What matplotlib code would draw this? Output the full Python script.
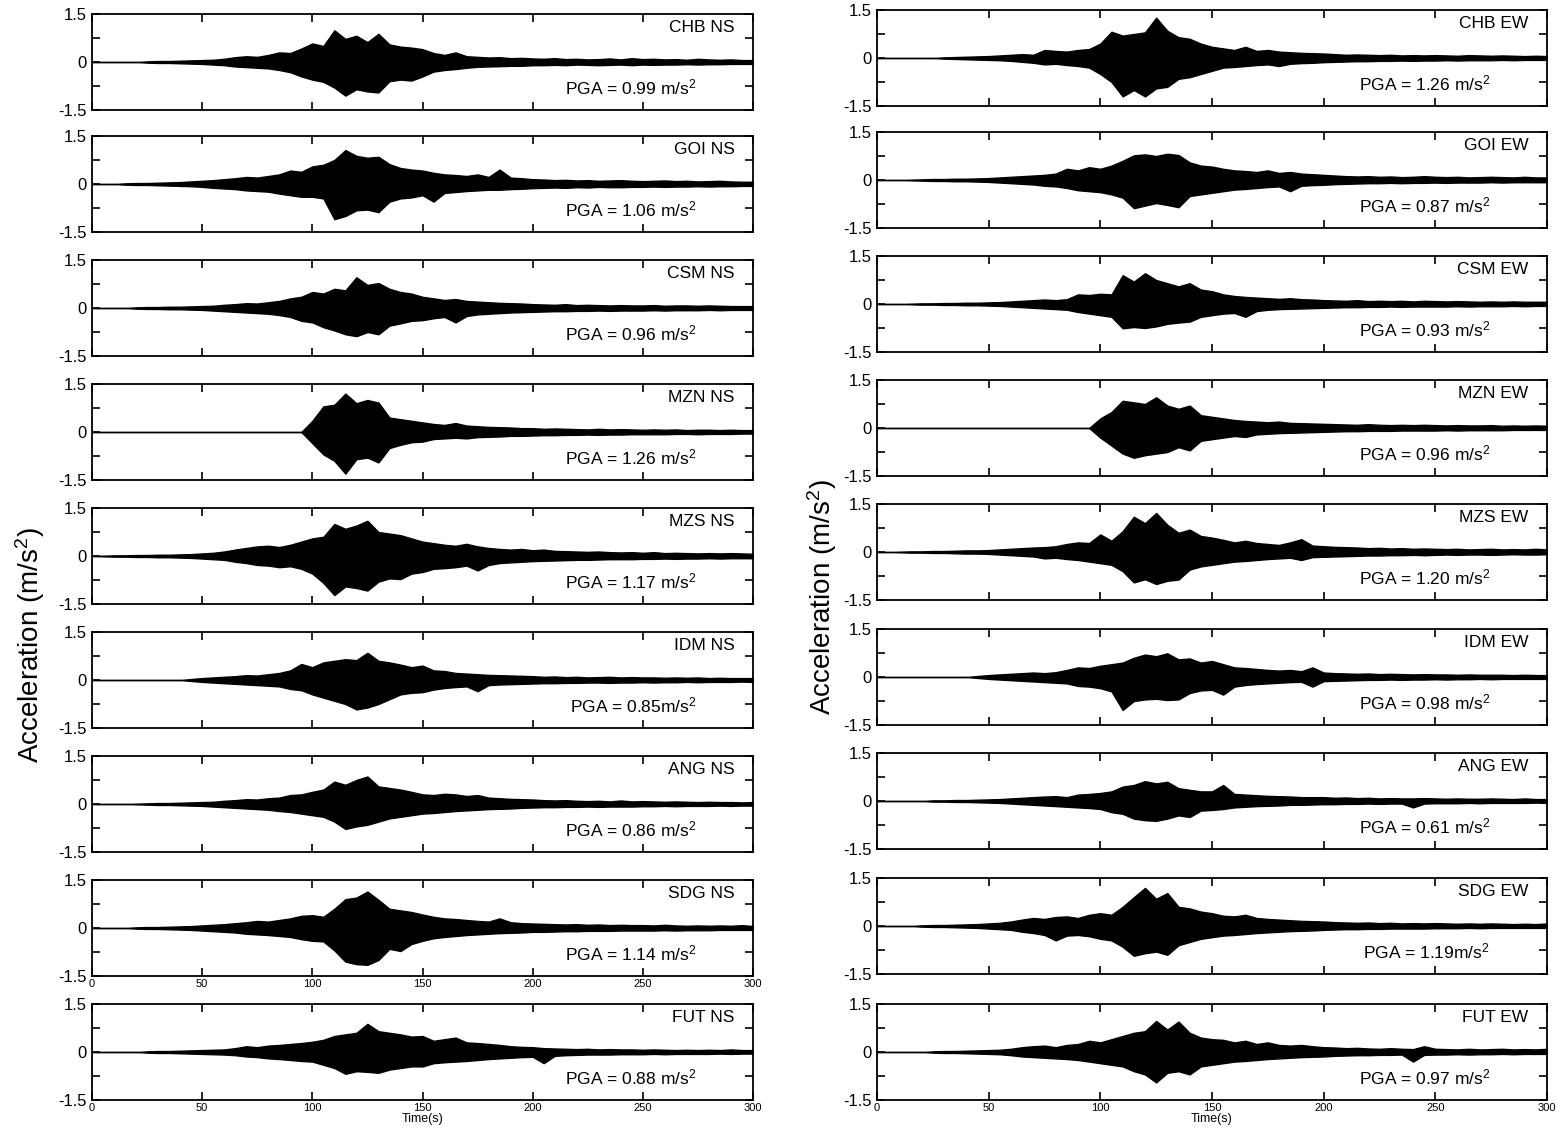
import numpy as np
import matplotlib
matplotlib.use('Agg')
import matplotlib.pyplot as plt

plt.rcParams['font.family'] = ['Liberation Sans', 'DejaVu Sans']
plt.rcParams['mathtext.default'] = 'regular'

# time axis of the envelope readings (s)
time_s = list(range(0, 301, 5))

# upper / lower envelope of each record, read every 5 s (m/s^2, lower as magnitude)
chb_ns_up = [0, 0, 0, 0, 0, 0.02, 0.03, 0.03, 0.04, 0.05,
             0.06, 0.07, 0.10, 0.15, 0.18, 0.16, 0.22, 0.30, 0.28, 0.42,
             0.58, 0.50, 0.99, 0.72, 0.82, 0.62, 0.88, 0.55, 0.48, 0.45,
             0.40, 0.28, 0.22, 0.30, 0.18, 0.16, 0.14, 0.15, 0.12, 0.13,
             0.11, 0.10, 0.12, 0.09, 0.10, 0.08, 0.09, 0.11, 0.08, 0.12,
             0.09, 0.10, 0.08, 0.09, 0.07, 0.10, 0.08, 0.07, 0.08, 0.06, 0.06]
chb_ns_lo = [0, 0, 0, 0, 0, 0.02, 0.03, 0.03, 0.04, 0.05,
             0.06, 0.08, 0.10, 0.14, 0.16, 0.18, 0.20, 0.25, 0.32, 0.45,
             0.55, 0.62, 0.80, 1.05, 0.85, 0.92, 0.95, 0.60, 0.55, 0.58,
             0.45, 0.30, 0.25, 0.22, 0.18, 0.15, 0.14, 0.13, 0.12, 0.12,
             0.10, 0.10, 0.09, 0.10, 0.08, 0.09, 0.10, 0.09, 0.08, 0.10,
             0.08, 0.09, 0.08, 0.08, 0.07, 0.08, 0.07, 0.07, 0.06, 0.06, 0.06]

goi_ns_up = [0, 0, 0, 0.02, 0.03, 0.03, 0.04, 0.05, 0.06, 0.08,
             0.10, 0.12, 0.15, 0.18, 0.22, 0.20, 0.25, 0.30, 0.42, 0.38,
             0.55, 0.60, 0.75, 1.06, 0.88, 0.82, 0.85, 0.62, 0.50, 0.45,
             0.42, 0.35, 0.30, 0.28, 0.25, 0.30, 0.22, 0.45, 0.20, 0.18,
             0.15, 0.14, 0.12, 0.13, 0.11, 0.12, 0.10, 0.11, 0.12, 0.10,
             0.09, 0.10, 0.11, 0.09, 0.10, 0.08, 0.09, 0.10, 0.08, 0.07, 0.07]
goi_ns_lo = [0, 0, 0, 0.02, 0.03, 0.03, 0.04, 0.05, 0.06, 0.07,
             0.09, 0.12, 0.14, 0.16, 0.20, 0.22, 0.24, 0.30, 0.35, 0.40,
             0.40, 0.45, 1.10, 1.00, 0.82, 0.80, 0.88, 0.55, 0.45, 0.42,
             0.35, 0.55, 0.28, 0.25, 0.22, 0.20, 0.18, 0.18, 0.16, 0.15,
             0.13, 0.12, 0.11, 0.12, 0.10, 0.11, 0.09, 0.10, 0.10, 0.09,
             0.09, 0.08, 0.09, 0.08, 0.08, 0.07, 0.08, 0.07, 0.07, 0.06, 0.06]

csm_ns_up = [0, 0, 0, 0, 0.02, 0.03, 0.03, 0.04, 0.04, 0.05,
             0.06, 0.07, 0.10, 0.12, 0.15, 0.14, 0.18, 0.22, 0.30, 0.35,
             0.50, 0.45, 0.60, 0.55, 0.96, 0.72, 0.78, 0.60, 0.50, 0.45,
             0.35, 0.30, 0.25, 0.28, 0.22, 0.20, 0.18, 0.16, 0.15, 0.14,
             0.12, 0.11, 0.10, 0.12, 0.09, 0.10, 0.09, 0.08, 0.09, 0.08,
             0.08, 0.09, 0.07, 0.08, 0.08, 0.07, 0.08, 0.07, 0.06, 0.06, 0.06]
csm_ns_lo = [0, 0, 0, 0, 0.02, 0.03, 0.03, 0.04, 0.04, 0.05,
             0.06, 0.08, 0.10, 0.12, 0.14, 0.16, 0.18, 0.22, 0.28, 0.40,
             0.45, 0.60, 0.70, 0.82, 0.88, 0.75, 0.82, 0.55, 0.48, 0.40,
             0.38, 0.32, 0.28, 0.45, 0.25, 0.20, 0.18, 0.16, 0.14, 0.13,
             0.12, 0.11, 0.10, 0.10, 0.09, 0.09, 0.08, 0.09, 0.08, 0.08,
             0.08, 0.07, 0.08, 0.07, 0.07, 0.07, 0.06, 0.07, 0.06, 0.06, 0.06]

mzn_ns_up = [0, 0, 0, 0, 0, 0, 0, 0, 0, 0,
             0, 0, 0, 0, 0, 0, 0, 0, 0, 0,
             0.35, 0.80, 0.85, 1.20, 0.90, 1.00, 0.92, 0.45, 0.40, 0.35,
             0.30, 0.25, 0.22, 0.28, 0.20, 0.18, 0.16, 0.15, 0.14, 0.12,
             0.12, 0.10, 0.11, 0.10, 0.09, 0.08, 0.10, 0.08, 0.09, 0.08,
             0.07, 0.08, 0.07, 0.08, 0.06, 0.07, 0.07, 0.06, 0.07, 0.06, 0.06]
mzn_ns_lo = [0, 0, 0, 0, 0, 0, 0, 0, 0, 0,
             0, 0, 0, 0, 0, 0, 0, 0, 0, 0,
             0.35, 0.70, 0.90, 1.30, 0.85, 0.80, 0.95, 0.50, 0.40, 0.32,
             0.30, 0.22, 0.20, 0.18, 0.20, 0.16, 0.15, 0.14, 0.12, 0.12,
             0.11, 0.10, 0.10, 0.09, 0.09, 0.08, 0.09, 0.08, 0.08, 0.07,
             0.07, 0.07, 0.07, 0.06, 0.06, 0.07, 0.06, 0.06, 0.06, 0.05, 0.05]

mzs_ns_up = [0, 0.01, 0.02, 0.02, 0.03, 0.03, 0.04, 0.04, 0.05, 0.06,
             0.08, 0.10, 0.14, 0.20, 0.25, 0.30, 0.32, 0.28, 0.35, 0.45,
             0.55, 0.60, 1.00, 0.85, 0.95, 1.10, 0.75, 0.70, 0.65, 0.55,
             0.45, 0.40, 0.35, 0.32, 0.38, 0.30, 0.25, 0.22, 0.20, 0.22,
             0.18, 0.20, 0.16, 0.15, 0.14, 0.13, 0.14, 0.12, 0.11, 0.12,
             0.10, 0.12, 0.09, 0.10, 0.09, 0.08, 0.09, 0.08, 0.09, 0.08, 0.07]
mzs_ns_lo = [0, 0.01, 0.02, 0.02, 0.03, 0.03, 0.04, 0.04, 0.05, 0.06,
             0.08, 0.10, 0.12, 0.18, 0.22, 0.28, 0.30, 0.35, 0.32, 0.40,
             0.55, 0.84, 1.22, 0.95, 1.00, 1.08, 0.80, 0.70, 0.72, 0.55,
             0.50, 0.40, 0.38, 0.35, 0.30, 0.45, 0.28, 0.22, 0.20, 0.18,
             0.16, 0.15, 0.14, 0.13, 0.12, 0.12, 0.11, 0.10, 0.10, 0.10,
             0.09, 0.09, 0.08, 0.09, 0.08, 0.08, 0.07, 0.08, 0.07, 0.07, 0.07]

idm_ns_up = [0, 0, 0, 0, 0, 0, 0, 0, 0, 0.03,
             0.06, 0.08, 0.10, 0.12, 0.15, 0.14, 0.18, 0.22, 0.30, 0.50,
             0.40, 0.55, 0.60, 0.65, 0.62, 0.85, 0.60, 0.55, 0.48, 0.40,
             0.45, 0.30, 0.28, 0.22, 0.20, 0.18, 0.16, 0.15, 0.14, 0.13,
             0.12, 0.10, 0.11, 0.09, 0.10, 0.08, 0.09, 0.10, 0.08, 0.09,
             0.08, 0.08, 0.07, 0.08, 0.07, 0.08, 0.06, 0.07, 0.06, 0.06, 0.06]
idm_ns_lo = [0, 0, 0, 0, 0, 0, 0, 0, 0, 0.03,
             0.06, 0.08, 0.10, 0.12, 0.14, 0.16, 0.18, 0.20, 0.28, 0.32,
             0.45, 0.55, 0.65, 0.75, 0.92, 0.86, 0.75, 0.60, 0.45, 0.40,
             0.38, 0.30, 0.25, 0.22, 0.20, 0.35, 0.16, 0.14, 0.13, 0.12,
             0.11, 0.10, 0.10, 0.09, 0.09, 0.08, 0.08, 0.09, 0.08, 0.08,
             0.07, 0.08, 0.07, 0.07, 0.06, 0.07, 0.06, 0.06, 0.06, 0.05, 0.06]

ang_ns_up = [0, 0, 0, 0, 0.01, 0.02, 0.03, 0.03, 0.04, 0.05,
             0.06, 0.07, 0.10, 0.12, 0.15, 0.14, 0.18, 0.20, 0.28, 0.30,
             0.38, 0.45, 0.70, 0.60, 0.75, 0.86, 0.55, 0.50, 0.45, 0.38,
             0.30, 0.28, 0.32, 0.30, 0.25, 0.28, 0.20, 0.18, 0.16, 0.15,
             0.14, 0.12, 0.11, 0.12, 0.10, 0.09, 0.10, 0.08, 0.11, 0.08,
             0.09, 0.08, 0.07, 0.08, 0.07, 0.06, 0.07, 0.06, 0.06, 0.05, 0.06]
ang_ns_lo = [0, 0, 0, 0, 0.01, 0.02, 0.03, 0.03, 0.04, 0.05,
             0.06, 0.08, 0.10, 0.12, 0.14, 0.16, 0.18, 0.22, 0.25, 0.30,
             0.35, 0.40, 0.55, 0.78, 0.70, 0.65, 0.55, 0.45, 0.40, 0.35,
             0.30, 0.28, 0.25, 0.22, 0.20, 0.18, 0.16, 0.15, 0.14, 0.12,
             0.11, 0.10, 0.10, 0.09, 0.09, 0.08, 0.09, 0.08, 0.08, 0.08,
             0.07, 0.07, 0.06, 0.07, 0.06, 0.06, 0.06, 0.05, 0.06, 0.05, 0.05]

sdg_ns_up = [0, 0, 0, 0, 0.02, 0.03, 0.03, 0.04, 0.05, 0.06,
             0.08, 0.10, 0.12, 0.15, 0.18, 0.22, 0.20, 0.25, 0.30, 0.38,
             0.40, 0.35, 0.60, 0.90, 0.95, 1.14, 0.88, 0.60, 0.55, 0.50,
             0.42, 0.35, 0.30, 0.28, 0.25, 0.22, 0.20, 0.30, 0.18, 0.15,
             0.14, 0.13, 0.12, 0.11, 0.12, 0.10, 0.11, 0.09, 0.10, 0.09,
             0.09, 0.08, 0.10, 0.08, 0.07, 0.08, 0.07, 0.08, 0.07, 0.09, 0.06]
sdg_ns_lo = [0, 0, 0, 0, 0.02, 0.03, 0.03, 0.04, 0.05, 0.06,
             0.08, 0.10, 0.12, 0.14, 0.18, 0.20, 0.22, 0.25, 0.28, 0.35,
             0.40, 0.42, 0.70, 1.05, 1.13, 1.15, 1.00, 0.65, 0.72, 0.50,
             0.40, 0.32, 0.28, 0.25, 0.22, 0.20, 0.18, 0.16, 0.15, 0.14,
             0.12, 0.12, 0.11, 0.10, 0.10, 0.09, 0.09, 0.09, 0.08, 0.08,
             0.08, 0.08, 0.07, 0.08, 0.07, 0.07, 0.07, 0.06, 0.06, 0.06, 0.06]

fut_ns_up = [0, 0, 0, 0, 0, 0.02, 0.03, 0.03, 0.04, 0.05,
             0.06, 0.07, 0.08, 0.12, 0.18, 0.15, 0.20, 0.22, 0.25, 0.28,
             0.32, 0.38, 0.50, 0.55, 0.60, 0.88, 0.65, 0.60, 0.55, 0.48,
             0.50, 0.35, 0.40, 0.45, 0.30, 0.28, 0.25, 0.22, 0.18, 0.16,
             0.15, 0.12, 0.11, 0.10, 0.09, 0.10, 0.08, 0.09, 0.08, 0.08,
             0.07, 0.08, 0.07, 0.06, 0.07, 0.06, 0.07, 0.06, 0.08, 0.06, 0.06]
fut_ns_lo = [0, 0, 0, 0, 0, 0.02, 0.03, 0.03, 0.04, 0.05,
             0.06, 0.07, 0.08, 0.10, 0.14, 0.16, 0.20, 0.22, 0.25, 0.28,
             0.30, 0.40, 0.50, 0.68, 0.60, 0.62, 0.65, 0.55, 0.50, 0.45,
             0.45, 0.35, 0.32, 0.30, 0.28, 0.25, 0.22, 0.20, 0.18, 0.16,
             0.15, 0.35, 0.12, 0.10, 0.09, 0.08, 0.08, 0.08, 0.07, 0.07,
             0.07, 0.06, 0.07, 0.06, 0.06, 0.06, 0.06, 0.05, 0.06, 0.05, 0.05]

chb_ew_up = [0, 0, 0, 0, 0, 0, 0.02, 0.03, 0.04, 0.05,
             0.06, 0.08, 0.10, 0.12, 0.10, 0.25, 0.22, 0.20, 0.25, 0.28,
             0.45, 0.82, 0.70, 0.75, 0.80, 1.26, 0.85, 0.65, 0.60, 0.45,
             0.35, 0.30, 0.25, 0.35, 0.22, 0.25, 0.20, 0.18, 0.16, 0.15,
             0.14, 0.12, 0.10, 0.11, 0.10, 0.09, 0.10, 0.08, 0.09, 0.08,
             0.09, 0.08, 0.07, 0.09, 0.08, 0.07, 0.08, 0.07, 0.06, 0.07, 0.06]
chb_ew_lo = [0, 0, 0, 0, 0, 0, 0.02, 0.03, 0.04, 0.05,
             0.06, 0.07, 0.09, 0.12, 0.15, 0.20, 0.18, 0.22, 0.25, 0.30,
             0.50, 0.75, 1.20, 1.00, 1.20, 0.95, 0.90, 0.65, 0.60, 0.50,
             0.40, 0.30, 0.28, 0.25, 0.22, 0.20, 0.25, 0.18, 0.16, 0.15,
             0.13, 0.12, 0.11, 0.10, 0.10, 0.09, 0.09, 0.08, 0.09, 0.08,
             0.08, 0.07, 0.08, 0.07, 0.07, 0.07, 0.06, 0.07, 0.06, 0.06, 0.06]

goi_ew_up = [0, 0, 0, 0.01, 0.02, 0.03, 0.03, 0.04, 0.04, 0.05,
             0.06, 0.08, 0.10, 0.12, 0.14, 0.16, 0.20, 0.35, 0.30, 0.40,
             0.35, 0.45, 0.60, 0.77, 0.80, 0.75, 0.82, 0.78, 0.55, 0.45,
             0.42, 0.35, 0.30, 0.28, 0.25, 0.30, 0.22, 0.25, 0.20, 0.18,
             0.16, 0.14, 0.12, 0.11, 0.12, 0.10, 0.11, 0.09, 0.10, 0.12,
             0.10, 0.09, 0.10, 0.08, 0.09, 0.10, 0.09, 0.08, 0.10, 0.08, 0.08]
goi_ew_lo = [0, 0, 0, 0.01, 0.02, 0.03, 0.03, 0.04, 0.04, 0.05,
             0.06, 0.08, 0.10, 0.12, 0.14, 0.18, 0.20, 0.25, 0.32, 0.35,
             0.38, 0.45, 0.55, 0.88, 0.80, 0.72, 0.78, 0.85, 0.50, 0.45,
             0.40, 0.35, 0.30, 0.28, 0.25, 0.22, 0.20, 0.35, 0.18, 0.16,
             0.15, 0.13, 0.12, 0.11, 0.10, 0.10, 0.09, 0.10, 0.09, 0.09,
             0.08, 0.09, 0.08, 0.08, 0.08, 0.07, 0.08, 0.07, 0.07, 0.07, 0.07]

csm_ew_up = [0, 0, 0, 0.01, 0.02, 0.02, 0.03, 0.03, 0.04, 0.04,
             0.05, 0.06, 0.08, 0.10, 0.12, 0.14, 0.12, 0.15, 0.30, 0.28,
             0.32, 0.30, 0.90, 0.70, 0.96, 0.75, 0.65, 0.55, 0.65, 0.45,
             0.40, 0.30, 0.25, 0.22, 0.20, 0.18, 0.16, 0.18, 0.15, 0.14,
             0.12, 0.11, 0.10, 0.12, 0.09, 0.10, 0.09, 0.10, 0.08, 0.10,
             0.09, 0.08, 0.09, 0.08, 0.07, 0.08, 0.07, 0.08, 0.07, 0.07, 0.07]
csm_ew_lo = [0, 0, 0, 0.01, 0.02, 0.02, 0.03, 0.03, 0.04, 0.04,
             0.05, 0.06, 0.08, 0.10, 0.12, 0.14, 0.16, 0.18, 0.25, 0.30,
             0.35, 0.40, 0.76, 0.72, 0.75, 0.70, 0.62, 0.58, 0.55, 0.40,
             0.35, 0.30, 0.28, 0.40, 0.22, 0.18, 0.16, 0.15, 0.14, 0.13,
             0.12, 0.11, 0.10, 0.10, 0.09, 0.09, 0.08, 0.09, 0.08, 0.08,
             0.08, 0.08, 0.07, 0.08, 0.07, 0.07, 0.07, 0.06, 0.07, 0.06, 0.06]

mzn_ew_up = [0, 0, 0, 0, 0, 0, 0, 0, 0, 0,
             0, 0, 0, 0, 0, 0, 0, 0, 0, 0,
             0.30, 0.50, 0.85, 0.80, 0.75, 0.96, 0.70, 0.60, 0.70, 0.40,
             0.35, 0.30, 0.25, 0.22, 0.20, 0.18, 0.20, 0.16, 0.15, 0.14,
             0.13, 0.12, 0.11, 0.10, 0.12, 0.10, 0.09, 0.10, 0.09, 0.10,
             0.09, 0.08, 0.09, 0.08, 0.08, 0.09, 0.07, 0.08, 0.07, 0.08, 0.07]
mzn_ew_lo = [0, 0, 0, 0, 0, 0, 0, 0, 0, 0,
             0, 0, 0, 0, 0, 0, 0, 0, 0, 0,
             0.30, 0.55, 0.80, 0.93, 0.85, 0.80, 0.75, 0.60, 0.70, 0.40,
             0.35, 0.30, 0.25, 0.28, 0.20, 0.18, 0.16, 0.15, 0.14, 0.13,
             0.12, 0.11, 0.10, 0.10, 0.09, 0.09, 0.09, 0.08, 0.08, 0.08,
             0.08, 0.07, 0.08, 0.07, 0.07, 0.07, 0.07, 0.06, 0.06, 0.06, 0.06]

mzs_ew_up = [0, 0, 0.01, 0.02, 0.02, 0.03, 0.03, 0.04, 0.05, 0.05,
             0.06, 0.08, 0.10, 0.12, 0.14, 0.15, 0.18, 0.25, 0.30, 0.28,
             0.55, 0.35, 0.65, 1.10, 0.90, 1.22, 0.85, 0.60, 0.70, 0.50,
             0.45, 0.38, 0.30, 0.35, 0.28, 0.25, 0.22, 0.30, 0.40, 0.20,
             0.18, 0.16, 0.15, 0.14, 0.12, 0.13, 0.11, 0.12, 0.10, 0.11,
             0.10, 0.09, 0.10, 0.08, 0.09, 0.10, 0.08, 0.09, 0.08, 0.10, 0.08]
mzs_ew_lo = [0, 0, 0.01, 0.02, 0.02, 0.03, 0.03, 0.04, 0.05, 0.05,
             0.06, 0.08, 0.10, 0.12, 0.14, 0.20, 0.18, 0.22, 0.25, 0.30,
             0.35, 0.40, 0.60, 0.95, 0.85, 1.00, 0.90, 0.86, 0.55, 0.45,
             0.40, 0.35, 0.30, 0.28, 0.25, 0.22, 0.20, 0.18, 0.25, 0.16,
             0.15, 0.14, 0.13, 0.12, 0.11, 0.11, 0.10, 0.10, 0.09, 0.10,
             0.09, 0.08, 0.09, 0.08, 0.08, 0.09, 0.08, 0.07, 0.08, 0.08, 0.07]

idm_ew_up = [0, 0, 0, 0, 0, 0, 0, 0, 0, 0.03,
             0.06, 0.08, 0.10, 0.12, 0.14, 0.12, 0.15, 0.22, 0.30, 0.28,
             0.35, 0.40, 0.45, 0.60, 0.70, 0.65, 0.74, 0.55, 0.58, 0.45,
             0.50, 0.40, 0.30, 0.28, 0.25, 0.22, 0.20, 0.22, 0.18, 0.30,
             0.14, 0.12, 0.11, 0.10, 0.11, 0.09, 0.10, 0.09, 0.08, 0.09,
             0.08, 0.08, 0.07, 0.08, 0.07, 0.07, 0.07, 0.06, 0.07, 0.06, 0.06]
idm_ew_lo = [0, 0, 0, 0, 0, 0, 0, 0, 0, 0.03,
             0.06, 0.08, 0.10, 0.12, 0.14, 0.16, 0.18, 0.20, 0.28, 0.30,
             0.35, 0.45, 1.03, 0.75, 0.70, 0.68, 0.72, 0.70, 0.50, 0.42,
             0.40, 0.55, 0.30, 0.25, 0.22, 0.20, 0.18, 0.16, 0.15, 0.30,
             0.13, 0.12, 0.11, 0.10, 0.09, 0.09, 0.08, 0.09, 0.08, 0.08,
             0.07, 0.08, 0.07, 0.07, 0.06, 0.07, 0.06, 0.06, 0.06, 0.06, 0.06]

ang_ew_up = [0, 0, 0, 0, 0, 0.02, 0.02, 0.03, 0.03, 0.04,
             0.05, 0.06, 0.08, 0.10, 0.12, 0.14, 0.15, 0.12, 0.20, 0.22,
             0.25, 0.30, 0.45, 0.50, 0.62, 0.55, 0.60, 0.40, 0.35, 0.30,
             0.30, 0.50, 0.22, 0.20, 0.18, 0.16, 0.15, 0.14, 0.12, 0.12,
             0.12, 0.10, 0.11, 0.09, 0.10, 0.08, 0.09, 0.08, 0.08, 0.09,
             0.08, 0.07, 0.08, 0.07, 0.07, 0.08, 0.07, 0.06, 0.08, 0.06, 0.06]
ang_ew_lo = [0, 0, 0, 0, 0, 0.02, 0.02, 0.03, 0.03, 0.04,
             0.05, 0.06, 0.08, 0.10, 0.12, 0.14, 0.16, 0.18, 0.20, 0.22,
             0.25, 0.35, 0.40, 0.55, 0.60, 0.62, 0.55, 0.45, 0.50, 0.30,
             0.28, 0.25, 0.20, 0.18, 0.16, 0.15, 0.14, 0.12, 0.12, 0.11,
             0.10, 0.10, 0.09, 0.09, 0.08, 0.09, 0.08, 0.08, 0.20, 0.08,
             0.07, 0.07, 0.07, 0.06, 0.07, 0.06, 0.06, 0.06, 0.06, 0.05, 0.06]

sdg_ew_up = [0, 0, 0, 0, 0.02, 0.03, 0.03, 0.04, 0.05, 0.06,
             0.08, 0.10, 0.14, 0.20, 0.25, 0.22, 0.28, 0.30, 0.25, 0.35,
             0.40, 0.35, 0.60, 0.90, 1.19, 0.85, 1.03, 0.60, 0.55, 0.45,
             0.40, 0.32, 0.30, 0.35, 0.25, 0.22, 0.20, 0.18, 0.16, 0.15,
             0.14, 0.12, 0.11, 0.10, 0.11, 0.09, 0.10, 0.08, 0.09, 0.08,
             0.09, 0.08, 0.07, 0.08, 0.07, 0.08, 0.07, 0.06, 0.07, 0.06, 0.08]
sdg_ew_lo = [0, 0, 0, 0, 0.02, 0.03, 0.03, 0.04, 0.05, 0.06,
             0.08, 0.10, 0.12, 0.18, 0.22, 0.28, 0.45, 0.30, 0.28, 0.32,
             0.40, 0.45, 0.65, 0.93, 0.85, 0.80, 0.90, 0.60, 0.50, 0.40,
             0.35, 0.30, 0.28, 0.25, 0.22, 0.20, 0.18, 0.16, 0.15, 0.14,
             0.12, 0.11, 0.10, 0.10, 0.09, 0.09, 0.08, 0.08, 0.08, 0.08,
             0.07, 0.07, 0.07, 0.06, 0.07, 0.06, 0.06, 0.06, 0.06, 0.06, 0.06]

fut_ew_up = [0, 0, 0, 0, 0, 0.02, 0.03, 0.03, 0.04, 0.05,
             0.06, 0.07, 0.10, 0.15, 0.18, 0.20, 0.15, 0.22, 0.25, 0.35,
             0.30, 0.40, 0.50, 0.60, 0.65, 0.97, 0.70, 0.95, 0.60, 0.45,
             0.40, 0.38, 0.30, 0.35, 0.25, 0.30, 0.22, 0.20, 0.22, 0.18,
             0.15, 0.14, 0.12, 0.13, 0.11, 0.10, 0.12, 0.10, 0.09, 0.18,
             0.10, 0.09, 0.08, 0.10, 0.08, 0.09, 0.10, 0.08, 0.09, 0.08, 0.10]
fut_ew_lo = [0, 0, 0, 0, 0, 0.02, 0.03, 0.03, 0.04, 0.05,
             0.06, 0.07, 0.10, 0.14, 0.16, 0.18, 0.20, 0.22, 0.25, 0.30,
             0.35, 0.40, 0.45, 0.60, 0.70, 0.95, 0.65, 0.60, 0.70, 0.45,
             0.40, 0.35, 0.30, 0.28, 0.25, 0.22, 0.20, 0.18, 0.16, 0.15,
             0.14, 0.12, 0.11, 0.10, 0.10, 0.09, 0.09, 0.08, 0.30, 0.09,
             0.08, 0.08, 0.07, 0.08, 0.07, 0.07, 0.06, 0.07, 0.06, 0.06, 0.06]

ns_names = ["CHB NS", "GOI NS", "CSM NS", "MZN NS", "MZS NS",
            "IDM NS", "ANG NS", "SDG NS", "FUT NS"]
ew_names = ["CHB EW", "GOI EW", "CSM EW", "MZN EW", "MZS EW",
            "IDM EW", "ANG EW", "SDG EW", "FUT EW"]
ns_pga = ["PGA = 0.99 m/s$^2$", "PGA = 1.06 m/s$^2$", "PGA = 0.96 m/s$^2$",
          "PGA = 1.26 m/s$^2$", "PGA = 1.17 m/s$^2$", "PGA = 0.85m/s$^2$",
          "PGA = 0.86 m/s$^2$", "PGA = 1.14 m/s$^2$", "PGA = 0.88 m/s$^2$"]
ew_pga = ["PGA = 1.26 m/s$^2$", "PGA = 0.87 m/s$^2$", "PGA = 0.93 m/s$^2$",
          "PGA = 0.96 m/s$^2$", "PGA = 1.20 m/s$^2$", "PGA = 0.98 m/s$^2$",
          "PGA = 0.61 m/s$^2$", "PGA = 1.19m/s$^2$", "PGA = 0.97 m/s$^2$"]
ns_up = [chb_ns_up, goi_ns_up, csm_ns_up, mzn_ns_up, mzs_ns_up,
         idm_ns_up, ang_ns_up, sdg_ns_up, fut_ns_up]
ns_lo = [chb_ns_lo, goi_ns_lo, csm_ns_lo, mzn_ns_lo, mzs_ns_lo,
         idm_ns_lo, ang_ns_lo, sdg_ns_lo, fut_ns_lo]
ew_up = [chb_ew_up, goi_ew_up, csm_ew_up, mzn_ew_up, mzs_ew_up,
         idm_ew_up, ang_ew_up, sdg_ew_up, fut_ew_up]
ew_lo = [chb_ew_lo, goi_ew_lo, csm_ew_lo, mzn_ew_lo, mzs_ew_lo,
         idm_ew_lo, ang_ew_lo, sdg_ew_lo, fut_ew_lo]

W, H = 1565, 1133
fig = plt.figure(figsize=(W / 100, H / 100), dpi=100)

# pixel layout of the two columns (zero line of each panel)
ns_zero_px = [62, 184, 308, 432, 556, 680, 804, 928, 1052]
ew_zero_px = [58, 180, 304, 428, 552, 677, 801, 926, 1052]
panel_h = 96


def draw_panel(rect, name, pga, up, lo, xlabels):
    ax = fig.add_axes(rect)
    t = np.array(time_s)
    ax.fill_between(t, -np.array(lo), np.array(up), color='k', lw=1.0)
    ax.set_xlim(0, 300)
    ax.set_ylim(-1.5, 1.5)
    ax.set_xticks(range(0, 301, 50))
    ax.set_yticks([-1.5, -0.75, 0, 0.75, 1.5])
    ax.set_yticklabels(['-1.5', '', '0', '', '1.5'], fontsize=12)
    ax.tick_params(direction='in', top=True, right=True, length=6, width=1.2,
                   pad=4)
    if xlabels:
        ax.tick_params(axis='x', labelsize=8, pad=2)
    else:
        ax.set_xticklabels([])
    for s in ax.spines.values():
        s.set_linewidth(1.3)
    ax.text(0.972, 0.86, name, transform=ax.transAxes, ha='right', va='center',
            fontsize=12.5)
    ax.text(0.915, 0.23, pga, transform=ax.transAxes, ha='right', va='center',
            fontsize=12.5)
    return ax


for i in range(9):
    b = 1 - (ns_zero_px[i] + panel_h / 2) / H
    ax = draw_panel([92 / W, b, 661 / W, panel_h / H], ns_names[i], ns_pga[i],
                    ns_up[i], ns_lo[i], xlabels=(i >= 7))
    if i == 8:
        ax.set_xlabel('Time(s)', fontsize=9, labelpad=0)

for i in range(9):
    b = 1 - (ew_zero_px[i] + panel_h / 2) / H
    ax = draw_panel([877 / W, b, 670 / W, panel_h / H], ew_names[i], ew_pga[i],
                    ew_up[i], ew_lo[i], xlabels=(i == 8))
    if i == 8:
        ax.set_xlabel('Time(s)', fontsize=9, labelpad=0)

fig.text(30 / W, 1 - 645 / H, 'Acceleration (m/s$^2$)', rotation=90,
         ha='center', va='center', fontsize=20)
fig.text(822 / W, 1 - 597 / H, 'Acceleration (m/s$^2$)', rotation=90,
         ha='center', va='center', fontsize=20)

fig.savefig('out.png', dpi=100)
